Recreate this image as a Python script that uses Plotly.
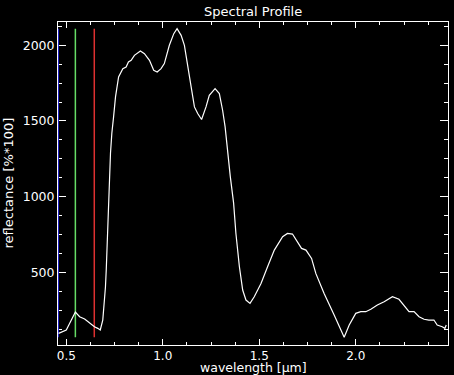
import plotly.graph_objects as go

wavelength = [0.460, 0.500, 0.547, 0.569, 0.595, 0.621, 0.646, 0.663, 0.676, 0.689, 0.698, 0.703,
              0.707, 0.712, 0.715, 0.720, 0.724, 0.729, 0.736, 0.741, 0.745, 0.755, 0.771, 0.793,
              0.810, 0.822, 0.836, 0.853, 0.884, 0.905, 0.931, 0.953, 0.971, 0.991, 1.008, 1.034,
              1.057, 1.074, 1.095, 1.112, 1.129, 1.147, 1.164, 1.181, 1.201, 1.224, 1.241, 1.271,
              1.293, 1.310, 1.323, 1.336, 1.350, 1.367, 1.379, 1.397, 1.414, 1.431, 1.452, 1.474,
              1.509, 1.543, 1.578, 1.621, 1.646, 1.672, 1.698, 1.719, 1.742, 1.771, 1.793, 1.836,
              1.888, 1.940, 1.966, 2.000, 2.026, 2.052, 2.078, 2.112, 2.147, 2.190, 2.224, 2.250,
              2.276, 2.302, 2.328, 2.354, 2.379, 2.405, 2.422, 2.448, 2.462, 2.469]
reflectance = [97, 119, 238, 207, 192, 163, 141, 130, 119, 185, 297, 405,
               515, 693, 845, 957, 1109, 1287, 1419, 1505, 1527, 1659, 1791, 1846,
               1857, 1890, 1901, 1934, 1962, 1945, 1901, 1835, 1824, 1846, 1879, 2000,
               2077, 2110, 2066, 2000, 1879, 1725, 1593, 1549, 1510, 1593, 1670, 1714,
               1681, 1571, 1461, 1285, 1131, 957, 757, 537, 383, 317, 295, 339,
               427, 537, 647, 735, 757, 753, 702, 658, 647, 592, 493, 361,
               218, 71, 152, 229, 240, 240, 256, 284, 306, 339, 322, 284,
               240, 240, 207, 190, 185, 185, 152, 141, 130, 152]

band_names = ["blue", "green", "red"]
band_wavelengths = [0.458, 0.547, 0.645]
band_colors = ["#2020d0", "#66dd66", "#dd3030"]

x_tick_vals = [0.5, 1.0, 1.5, 2.0]
x_tick_text = ["0.5", "1.0", "1.5", "2.0"]
y_tick_vals = [500, 1000, 1500, 2000]
y_tick_text = ["500", "1000", "1500", "2000"]

x_range = [0.457, 2.478]
y_range = [20, 2154]

title_text = "Spectral Profile"
x_title = "wavelength [µm]"
y_title = "reflectance [%*100]"

ymin, ymax = min(reflectance), max(reflectance)

fig = go.Figure()
for name, wl, col in zip(band_names, band_wavelengths, band_colors):
    fig.add_trace(go.Scatter(x=[wl, wl], y=[ymin, ymax], mode="lines",
                             line=dict(color=col, width=1.5), name=name, showlegend=False,
                             hoverinfo="skip"))
fig.add_trace(go.Scatter(x=wavelength, y=reflectance, mode="lines",
                         line=dict(color="white", width=1.2), showlegend=False))

font = dict(family="DejaVu Sans", size=13, color="white")
xtitle_font = dict(family="DejaVu Sans", size=12.5, color="white")
tick_font = dict(family="DejaVu Sans", size=12.5, color="white")
xtick_font = dict(family="DejaVu Sans", size=12, color="white")
axis_common = dict(showgrid=False, zeroline=False, showline=True, linecolor="white", linewidth=1,
                   mirror="allticks", ticks="inside", tickcolor="white", tickwidth=1,
                   automargin=False, layer="below traces")
fig.update_layout(
    width=454, height=375,
    margin=dict(l=58, r=6, t=22, b=30, autoexpand=False),
    paper_bgcolor="black", plot_bgcolor="black",
    font=font,
    xaxis=dict(range=x_range, tickvals=x_tick_vals, ticktext=x_tick_text, ticklen=6,
               tickfont=xtick_font,
               minor=dict(ticks="inside", ticklen=3, tick0=0.5, dtick=0.125, tickcolor="white", showgrid=False),
               **axis_common),
    yaxis=dict(range=y_range, tickvals=y_tick_vals, ticktext=y_tick_text, ticklen=8,
               tickfont=tick_font,
               minor=dict(ticks="inside", ticklen=4, tick0=0, dtick=125, tickcolor="white", showgrid=False),
               **axis_common),
    annotations=[
        dict(text=title_text, xref="paper", yref="paper", x=0.5, y=1, yshift=11,
             showarrow=False, xanchor="center", yanchor="middle", font=font),
        dict(text=x_title, xref="paper", yref="paper", x=0.5, y=0, yshift=-22.5,
             showarrow=False, xanchor="center", yanchor="middle", font=xtitle_font),
        dict(text=y_title, xref="paper", yref="paper", x=0, y=0.5, xshift=-50,
             showarrow=False, xanchor="center", yanchor="middle", textangle=-90, font=font),
    ],
)
fig.write_html("out.html", config={"displayModeBar": False},
               post_script="document.body.style.margin='0px';document.body.style.background='black';")
